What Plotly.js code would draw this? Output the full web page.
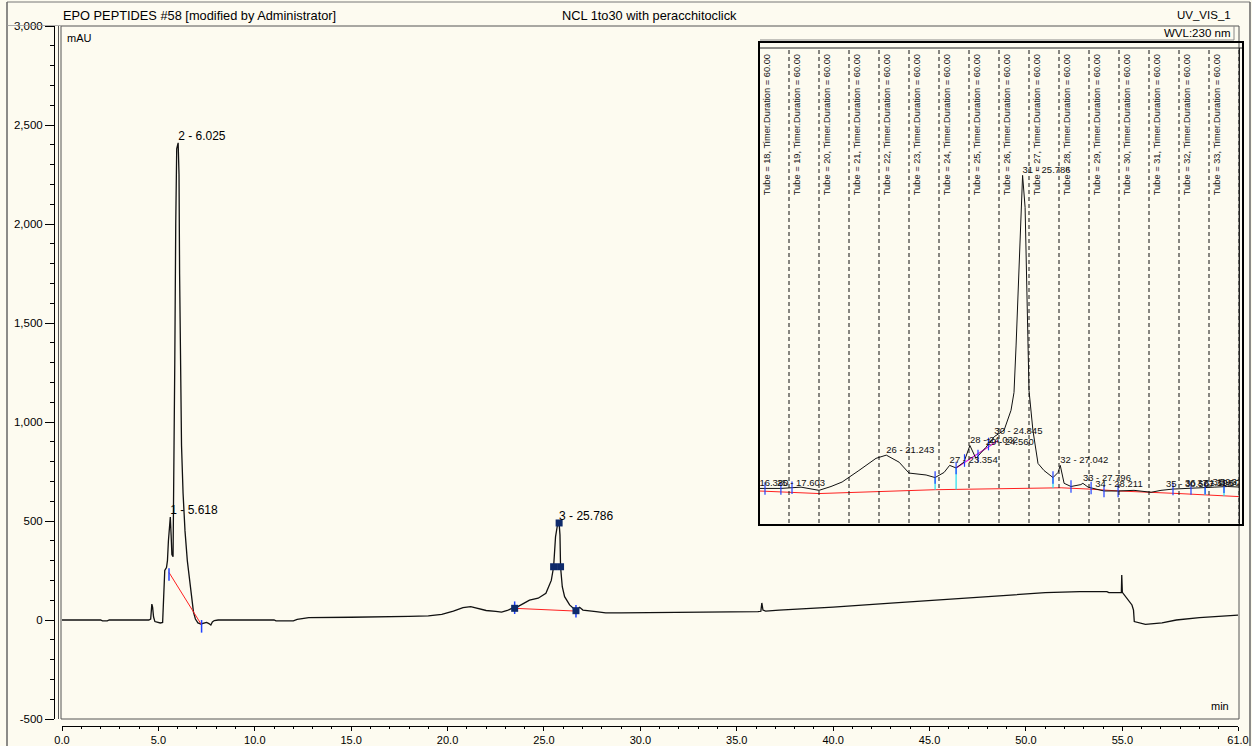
<!DOCTYPE html>
<html>
<head>
<meta charset="utf-8">
<script src="https://cdn.plot.ly/plotly-3.0.1.min.js"></script>
<style>
  html, body { margin: 0; padding: 0; background: #fdfbf0; }
  #chart { width: 1252px; height: 746px; }
</style>
</head>
<body>
<div id="chart"></div>
<script>
// ---- Chromatogram: EPO PEPTIDES #58, UV_VIS_1 (230 nm) ----
const mainTime = [0, 1.0, 2.0, 2.1, 2.35, 2.45, 4.50, 4.60, 4.66, 4.70, 4.75, 4.82, 4.95, 5.10, 5.22, 5.28, 5.33, 5.42, 5.47, 5.52, 5.58, 5.618, 5.66, 5.70, 5.76, 5.80, 5.85, 5.90, 5.95, 6.025, 6.07, 6.10, 6.15, 6.20, 6.28, 6.38, 6.50, 6.62, 6.72, 6.82, 6.92, 7.05, 7.20, 7.35, 7.50, 7.62, 7.72, 7.80, 7.90, 8.10, 11.0, 11.1, 12.0, 12.2, 12.8, 15.0, 17.0, 18.0, 19.0, 19.7, 20.3, 20.8, 21.2, 21.6, 22.0, 22.5, 22.8, 23.1, 23.35, 23.48, 23.7, 23.95, 24.25, 24.7, 25.1, 25.38, 25.50, 25.60, 25.70, 25.786, 25.83, 25.86, 25.95, 26.07, 26.33, 26.59, 26.66, 26.85, 27.02, 27.7, 28.2, 29.0, 33.0, 36.1, 36.25, 36.3, 36.36, 36.5, 37.2, 40.0, 43.0, 46.0, 49.0, 51.0, 52.8, 54.2, 54.3, 54.95, 54.97, 55.0, 55.5, 55.58, 55.62, 56.2, 57.06, 57.8, 59.0, 61.0];
const mainSignal = [0, 0, 0, -4, -4, 0, 0, 5, 80, 65, 15, -8, -12, -15, -12, 120, 250, 265, 300, 400, 500, 520, 430, 330, 320, 650, 1300, 2000, 2380, 2410, 2250, 1750, 1200, 880, 640, 450, 300, 195, 100, 40, 5, -15, -20, -15, -12, -18, -25, -10, -3, 0, 0, -4, -4, 3, 12, 14, 15, 18, 21, 28, 45, 62, 68, 58, 48, 44, 40, 48, 60, 59, 72, 84, 100, 110, 135, 200, 269, 420, 480, 490, 430, 269, 168, 118, 76, 55, 47, 64, 50, 42, 36, 36, 38, 42, 44, 86, 50, 45, 50, 65, 85, 105, 125, 138, 143, 143, 138, 138, 227, 140, 76, 50, -8, -22, -15, 0, 12, 25];

// integrated peaks in the main window
const mainPeakNum = [1, 2, 3];
const mainPeakTime = [5.618, 6.025, 25.786];
const mainPeakHeight = [520, 2410, 490];

// baselines drawn under the integrated peaks (null splits segments)
const mainBaseTime = [5.55, 7.24, null, 23.48, 26.66];
const mainBaseValue = [240, -25, null, 59, 45];
const mainCutTime = [5.55, 7.24, 23.48, 26.66];
const mainCutValue = [230, -32, 62, 44];

// peak 3 markers: start, half height (left/right), apex, end
const peak3MarkTime = [23.48, 25.50, 25.86, 25.786, 26.66];
const peak3MarkValue = [59, 269, 269, 490, 47];

// axis ticks
const yTickVals = [-500, 0, 500, 1000, 1500, 2000, 2500, 3000];
const yTickText = ['-500', '0', '500', '1,000', '1,500', '2,000', '2,500', '3,000'];
const xTickVals = [0, 5, 10, 15, 20, 25, 30, 35, 40, 45, 50, 55, 61];
const xTickText = ['0.0', '5.0', '10.0', '15.0', '20.0', '25.0', '30.0', '35.0', '40.0', '45.0', '50.0', '55.0', '61.0'];

// ---- Zoomed window with fraction collection (tubes) ----
const insetTime = [17.00, 17.73, 18.40, 19.00, 19.40, 19.77, 20.33, 20.90, 21.243, 21.67, 22.00, 22.57, 22.87, 23.17, 23.354, 23.57, 23.83, 24.03, 24.23, 24.56, 24.845, 25.00, 25.17, 25.40, 25.50, 25.57, 25.67, 25.73, 25.786, 25.87, 25.93, 26.00, 26.13, 26.30, 26.50, 26.80, 26.97, 27.042, 27.17, 27.40, 27.73, 27.796, 27.97, 28.211, 28.50, 28.97, 29.50, 30.07, 30.40, 30.80, 31.30, 31.73, 32.17, 32.63, 33.07];
const insetSignal = [16, 16, 18, 13, 19, 26, 44, 63, 68, 57, 40, 37, 33, 41, 52, 48, 57, 83, 63, 80, 97, 102, 107, 138, 166, 240, 377, 455, 505, 455, 299, 169, 107, 55, 44, 33, 41, 52, 24, 19, 22, 24, 18, 15, 12, 12, 13, 10, 13, 15, 16, 16, 18, 19, 18];

const insetPeakLabel = ['24 - 16.380', '25 - 17.603', '26 - 21.243', '27 - 23.354', '28 - 24.032', '29 - 24.560', '30 - 24.845', '31 - 25.786', '32 - 27.042', '33 - 27.796', '34 - 28.211', '35 - 30.567', '36 - 31.198', '37 - 31.605', '38 - 32.113', '39 - 32.363'];
const insetPeakTime = [16.380, 17.603, 21.243, 23.354, 24.032, 24.560, 24.845, 25.786, 27.042, 27.796, 28.211, 30.567, 31.198, 31.605, 32.113, 32.363];

const insetBaseTime = [17.0, 19.0, 22.87, 27.07, 28.0, 29.0, 31.0, 32.5, 33.1];
const insetBaseValue = [12, 8, 14, 17, 15, 12, 8, 4, 3];
const insetRiderTime = [23.57, 24.97];
const insetRiderValue = [48, 91];
const insetDropTime = [22.87, 23.57, 26.80, 31.87, 32.5];
const insetCutTime = [17.2, 17.73, 18.1, 22.87, 23.57, 23.85, 24.3, 24.65, 26.80, 27.40, 28.07, 28.50, 28.97, 30.80, 31.40, 31.87, 32.5];

const tubeNumber = [18, 19, 20, 21, 22, 23, 24, 25, 26, 27, 28, 29, 30, 31, 32, 33];
const tubeStart = [17, 18, 19, 20, 21, 22, 23, 24, 25, 26, 27, 28, 29, 30, 31, 32];
const tubeLines = [18, 19, 20, 21, 22, 23, 24, 25, 26, 27, 28, 29, 30, 31, 32, 33];

// ---- helpers ----
const W = 1252, H = 746;
const px = x => x / W;
const py = y => 1 - y / H;
const FONT = 'Liberation Sans, Arial, sans-serif';
const BG = '#fdfbf0';

function valueAt(ts, vs, t) {
  if (t <= ts[0]) return vs[0];
  for (let i = 1; i < ts.length; i++) {
    if (t <= ts[i]) {
      const f = (t - ts[i - 1]) / (ts[i] - ts[i - 1]);
      return vs[i - 1] + f * (vs[i] - vs[i - 1]);
    }
  }
  return vs[vs.length - 1];
}

// drop lines from the trace down to the baseline
const dropX = [], dropY = [];
insetDropTime.forEach(t => {
  dropX.push(t, t, null);
  dropY.push(valueAt(insetTime, insetSignal, t), valueAt(insetBaseTime, insetBaseValue, t), null);
});

const traces = [
  // main window
  { x: mainTime, y: mainSignal, xaxis: 'x', yaxis: 'y', mode: 'lines',
    line: { color: '#111', width: 1.3 }, hoverinfo: 'skip' },
  { x: mainBaseTime, y: mainBaseValue, xaxis: 'x', yaxis: 'y', mode: 'lines',
    line: { color: '#ff2020', width: 1 }, connectgaps: false, hoverinfo: 'skip' },
  { x: mainCutTime, y: mainCutValue, xaxis: 'x', yaxis: 'y', mode: 'markers',
    marker: { symbol: 'line-ns', size: 9, line: { color: '#2040ff', width: 1.5 } }, hoverinfo: 'skip' },
  { x: peak3MarkTime, y: peak3MarkValue, xaxis: 'x', yaxis: 'y', mode: 'markers',
    marker: { symbol: 'square', size: 7, color: '#0e2a6b' }, hoverinfo: 'skip' },
  { x: mainPeakTime, y: mainPeakHeight, xaxis: 'x', yaxis: 'y', mode: 'text',
    text: mainPeakNum.map((n, i) => n + ' - ' + mainPeakTime[i].toFixed(3)),
    textposition: 'top right', textfont: { family: FONT, size: 12, color: '#000' }, hoverinfo: 'skip' },

  // zoomed window
  { x: insetBaseTime, y: insetBaseValue, xaxis: 'x2', yaxis: 'y2', mode: 'lines',
    line: { color: '#ff2020', width: 1 }, hoverinfo: 'skip' },
  { x: insetRiderTime, y: insetRiderValue, xaxis: 'x2', yaxis: 'y2', mode: 'lines',
    line: { color: '#e020e0', width: 1.2 }, hoverinfo: 'skip' },
  { x: dropX, y: dropY, xaxis: 'x2', yaxis: 'y2', mode: 'lines',
    line: { color: '#20e0f0', width: 1.2 }, connectgaps: false, hoverinfo: 'skip' },
  { x: insetTime, y: insetSignal, xaxis: 'x2', yaxis: 'y2', mode: 'lines',
    line: { color: '#111', width: 1 }, hoverinfo: 'skip' },
  { x: insetCutTime, y: insetCutTime.map(t => valueAt(insetTime, insetSignal, t)), xaxis: 'x2', yaxis: 'y2',
    mode: 'markers', marker: { symbol: 'line-ns', size: 9, line: { color: '#2040ff', width: 1.2 } }, hoverinfo: 'skip' },
  { x: insetPeakTime, y: insetPeakTime.map(t => valueAt(insetTime, insetSignal, t)), xaxis: 'x2', yaxis: 'y2',
    mode: 'text', text: insetPeakLabel, textposition: 'top right',
    textfont: { family: FONT, size: 9.5, color: '#111' }, hoverinfo: 'skip' }
];

const line = (x0, y0, x1, y1, color, width) => ({
  type: 'line', xref: 'paper', yref: 'paper',
  x0: px(x0), y0: py(y0), x1: px(x1), y1: py(y1),
  line: { color: color, width: width }
});

const shapes = [
  line(7, 2, 1250, 2, '#777', 1),
  line(7, 2, 7, 746, '#666', 1.5),
  line(1250, 2, 1250, 746, '#666', 1.5),
  { type: 'rect', xref: 'paper', yref: 'paper', x0: px(61), y0: py(719), x1: px(1239), y1: py(26),
    line: { color: '#555', width: 1 }, fillcolor: 'rgba(0,0,0,0)' },
  line(58.5, 26, 58.5, 719, '#555', 1),
  line(7, 25.5, 61, 25.5, '#999', 0.8),
  line(760, 40, 1234, 40, '#888', 1),
  line(1234, 26, 1234, 40, '#888', 1),
  // zoom window frame
  { type: 'rect', xref: 'paper', yref: 'paper', x0: px(759), y0: py(525), x1: px(1243), y1: py(42),
    line: { color: '#000', width: 2 }, fillcolor: 'rgba(0,0,0,0)' },
  line(760, 48, 1242, 48, '#222', 1),
  line(1239.5, 48, 1239.5, 524, '#222', 1)
];
tubeLines.forEach(t => shapes.push({
  type: 'line', xref: 'x2', yref: 'y2 domain', x0: t, x1: t, y0: 0, y1: 1,
  line: { color: '#111', width: 1, dash: '4px,3px' }
}));

const ann = (text, x, y, xanchor, size) => ({
  text: text, xref: 'paper', yref: 'paper', x: px(x), y: py(y),
  xanchor: xanchor, yanchor: 'middle', showarrow: false,
  font: { family: FONT, size: size || 11, color: '#000' }
});

const annotations = [
  ann('EPO PEPTIDES #58 [modified by Administrator]', 61, 15, 'left', 12.8),
  ann('NCL 1to30 with peracchitoclick', 649, 15, 'center', 12.8),
  ann('UV_VIS_1', 1233, 15, 'right', 11.5),
  ann('WVL:230 nm', 1232, 33, 'right', 11.5),
  ann('mAU', 65, 38, 'left', 11),
  ann('min', 1231, 706, 'right', 11)
];
tubeNumber.forEach((n, i) => annotations.push({
  text: 'Tube = ' + n + ', Timer.Duration = 60.00',
  xref: 'x2', yref: 'y2 domain', x: tubeStart[i], y: 0.99,
  xanchor: 'left', yanchor: 'top', xshift: 1, textangle: -90, showarrow: false,
  font: { family: FONT, size: 9.3, color: '#111' }
}));

const layout = {
  width: W, height: H,
  margin: { l: 0, r: 0, t: 0, b: 0 },
  paper_bgcolor: BG, plot_bgcolor: BG,
  showlegend: false,
  xaxis: {
    domain: [px(62), px(1238)], range: [0, 61], anchor: 'free', position: py(726),
    showline: true, linecolor: '#000', linewidth: 1,
    tickmode: 'array', tickvals: xTickVals, ticktext: xTickText,
    ticks: 'outside', ticklen: 4, tickcolor: '#000',
    minor: { tickmode: 'linear', tick0: 0, dtick: 1, ticks: 'outside', ticklen: 2, tickcolor: '#000' },
    tickfont: { family: FONT, size: 11, color: '#000' },
    showgrid: false, zeroline: false, fixedrange: true
  },
  yaxis: {
    domain: [py(719), py(26)], range: [-500, 3000], anchor: 'free', position: px(54),
    showline: true, linecolor: '#000', linewidth: 1,
    tickmode: 'array', tickvals: yTickVals, ticktext: yTickText,
    ticks: 'outside', ticklen: 9, tickcolor: '#000',
    minor: { tickmode: 'linear', tick0: 0, dtick: 100, ticks: 'outside', ticklen: 4, tickcolor: '#000' },
    tickfont: { family: FONT, size: 11.5, color: '#000' },
    showgrid: false, zeroline: false, fixedrange: true
  },
  xaxis2: {
    domain: [px(759), px(1239)], range: [17, 33], anchor: 'y2',
    visible: false, showgrid: false, zeroline: false, fixedrange: true
  },
  yaxis2: {
    domain: [py(523), py(48)], range: [-38, 704], anchor: 'x2',
    visible: false, showgrid: false, zeroline: false, fixedrange: true
  },
  shapes: shapes,
  annotations: annotations
};

Plotly.newPlot('chart', traces, layout, { staticPlot: true, displayModeBar: false });
</script>
</body>
</html>
